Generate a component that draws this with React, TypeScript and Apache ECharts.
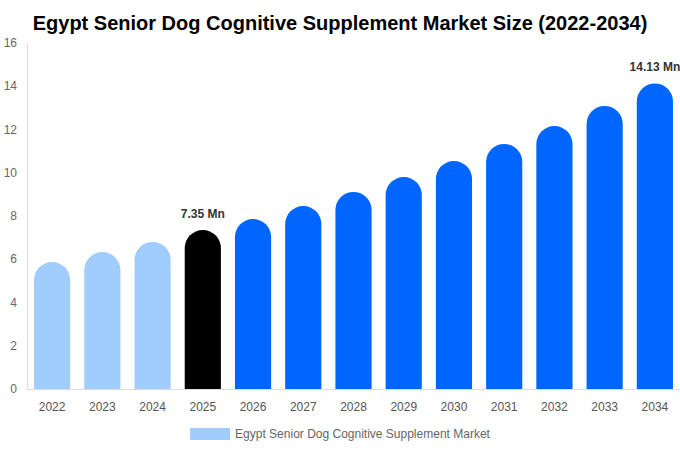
import React, { useEffect, useRef } from "react";
import * as echarts from "echarts";

const categories = ["2022", "2023", "2024", "2025", "2026", "2027", "2028", "2029", "2030", "2031", "2032", "2033", "2034"];
const values = [5.87, 6.33, 6.8, 7.35, 7.86, 8.46, 9.11, 9.8, 10.54, 11.33, 12.16, 13.09, 14.13];
const colors = ["#a0cdfe", "#a0cdfe", "#a0cdfe", "#000000", "#0066ff", "#0066ff", "#0066ff", "#0066ff", "#0066ff", "#0066ff", "#0066ff", "#0066ff", "#0066ff"];
const labelled = ["2025", "2034"];
const seriesName = "Egypt Senior Dog Cognitive Supplement Market";

export default function App() {
  const ref = useRef<HTMLDivElement>(null);
  useEffect(() => {
    document.body.style.margin = "0";
    const chart = echarts.init(ref.current!, null, { renderer: "svg" });
    chart.setOption({
      animation: false,
      title: {
        text: "Egypt Senior Dog Cognitive Supplement Market Size (2022-2034)",
        left: "center",
        top: 8,
        textStyle: { fontFamily: "Liberation Sans, Arial, sans-serif", fontSize: 20, fontWeight: "bold", color: "#000" },
      },
      grid: { left: 27, right: 0, top: 43, bottom: 61, containLabel: false },
      legend: {
        bottom: 5,
        left: "center",
        itemWidth: 40,
        itemHeight: 12,
        icon: "rect",
        textStyle: { fontFamily: "Liberation Sans, Arial, sans-serif", fontSize: 12, color: "#666" },
        data: [seriesName],
      },
      xAxis: {
        type: "category",
        data: categories,
        axisLine: { lineStyle: { color: "#ddd" } },
        axisTick: { show: false },
        axisLabel: { color: "#555", fontSize: 12, margin: 12, fontFamily: "Liberation Sans, Arial, sans-serif" },
      },
      yAxis: {
        type: "value",
        min: 0,
        max: 16,
        interval: 2,
        axisLine: { show: true, lineStyle: { color: "#ddd" } },
        axisTick: { show: false },
        splitLine: { show: false },
        axisLabel: { color: "#666", fontSize: 12, margin: 10, fontFamily: "Liberation Sans, Arial, sans-serif" },
      },
      series: [
        {
          name: seriesName,
          type: "bar",
          barWidth: "72%",
          itemStyle: { color: colors[0], borderRadius: [18, 18, 0, 0] },
          data: values.map((v, i) => ({
            value: v,
            itemStyle: { color: colors[i] },
            label: {
              show: labelled.includes(categories[i]),
              position: "top",
              distance: 10,
              formatter: (p: any) => `${p.value} Mn`,
              fontWeight: "bold",
              fontSize: 12,
              color: "#333",
              fontFamily: "Liberation Sans, Arial, sans-serif",
            },
          })),
        },
      ],
    });
    return () => chart.dispose();
  }, []);
  return <div ref={ref} style={{ width: 680, height: 450, position: "absolute", left: 0, top: 0 }} />;
}
